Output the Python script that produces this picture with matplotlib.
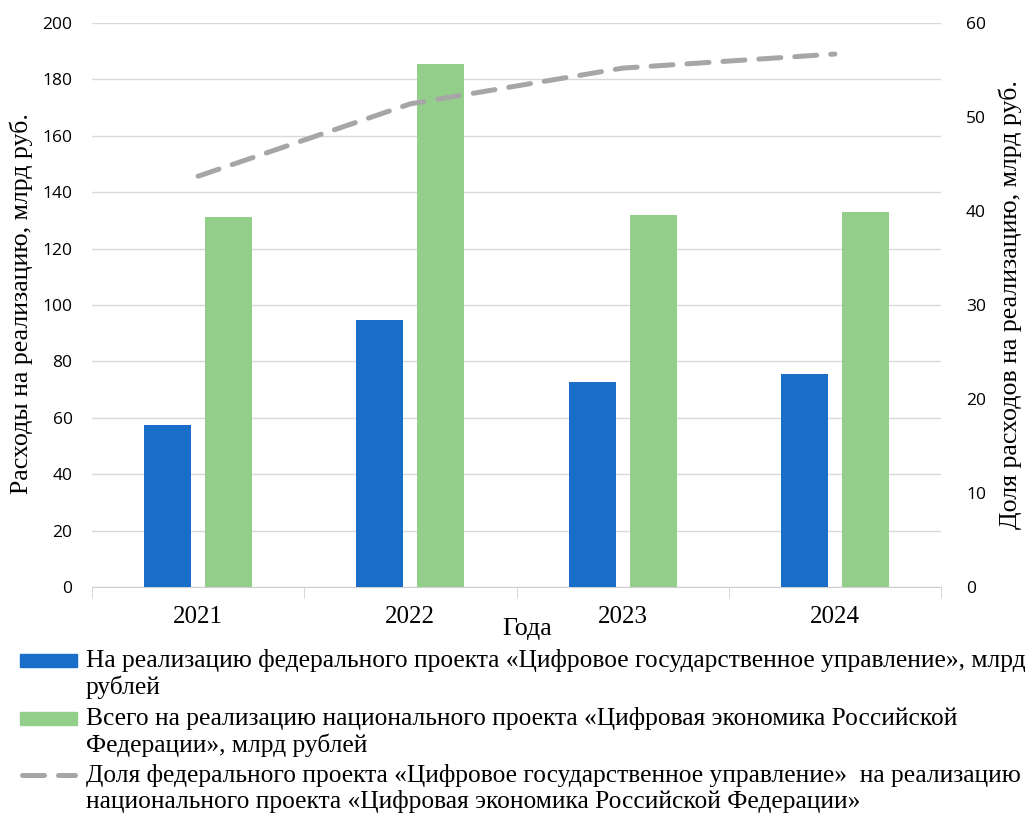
import numpy as np
import matplotlib
matplotlib.use("Agg")
import matplotlib.pyplot as plt
from matplotlib.patches import Rectangle
from matplotlib.lines import Line2D

years = ["2021", "2022", "2023", "2024"]
federal = [57.4, 94.7, 72.7, 75.5]
national = [131.2, 185.6, 131.8, 133.0]
share = [43.7, 51.4, 55.2, 56.7]

blue = "#1B6EC8"
green = "#93CF8A"
grey = "#A6A6A6"
serif = "Liberation Serif"
sans = "Open Sans"

fig = plt.figure(figsize=(10.3, 8.14), dpi=100)
ax = fig.add_axes([92/1030, 1-587/814, (941-92)/1030, (587-23)/814])
ax2 = ax.twinx()

x = np.arange(len(years))
w = 0.222
ax.bar(x - 0.144, federal, w, color=blue, zorder=3)
ax.bar(x + 0.144, national, w, color=green, zorder=3)
ax2.plot(x, share, color=grey, lw=3.6, dashes=(4.4, 2.8), dash_capstyle="round", zorder=4)

ax.set_xlim(-0.5, 3.5)
ax.set_ylim(0, 200)
ax.set_yticks(range(0, 201, 20))
ax2.set_ylim(0, 60)
ax2.set_yticks(range(0, 61, 10))
ax.grid(axis="y", color="#D9D9D9", lw=1, zorder=0)

for a in (ax, ax2):
    for s in a.spines.values():
        s.set_visible(False)
ax.spines["bottom"].set_visible(True)
ax.spines["bottom"].set_color("#D0D0D0")

ax.set_xticks(x)
ax.set_xticklabels(years, fontfamily=serif, fontsize=18)
ax.set_xticks(np.arange(-0.5, 3.6, 1), minor=True)
ax.tick_params(axis="x", which="major", length=0, pad=14)
ax.tick_params(axis="x", which="minor", length=8, color="#D0D0D0")
ax.tick_params(axis="y", length=0, pad=14, labelsize=12.5)
ax2.tick_params(axis="y", length=0, pad=18, labelsize=12.5)
for lab in ax.get_yticklabels() + ax2.get_yticklabels():
    lab.set_fontfamily(sans)

fig.text(21/1030, 1-304/814, "Расходы на реализацию, млрд руб.", rotation=90,
         ha="center", va="center", fontfamily=serif, fontsize=18.6)
fig.text(1010/1030, 1-305/814, "Доля расходов на реализацию, млрд руб.", rotation=90,
         ha="center", va="center", fontfamily=serif, fontsize=18.6)
fig.text(527/1030, 1-629/814, "Года", ha="center", va="center", fontfamily=serif, fontsize=18.6)

# legend drawn by hand so that the keys sit on the first text line
entries = [
    ("patch", blue, "На реализацию федерального проекта «Цифровое государственное управление», млрд\nрублей", 660),
    ("patch", green, "Всего на реализацию национального проекта «Цифровая экономика Российской\nФедерации», млрд рублей", 718),
    ("line", grey, "Доля федерального проекта «Цифровое государственное управление»  на реализацию\nнационального проекта «Цифровая экономика Российской Федерации»", 775),
]
for kind, col, text, yp in entries:
    yf = 1 - yp/814
    if kind == "patch":
        fig.add_artist(Rectangle((20/1030, yf - 6.5/814), 57/1030, 13/814,
                                 transform=fig.transFigure, color=col))
    else:
        fig.add_artist(Line2D([22/1030, 75/1030], [yf, yf], transform=fig.transFigure,
                              color=col, lw=3.6, dashes=(4.4, 2.8), dash_capstyle="round"))
    fig.text(86/1030, yf + 11/814, text, ha="left", va="top", fontfamily=serif,
             fontsize=18.4, linespacing=1.17)

fig.savefig("out.png", dpi=100)
